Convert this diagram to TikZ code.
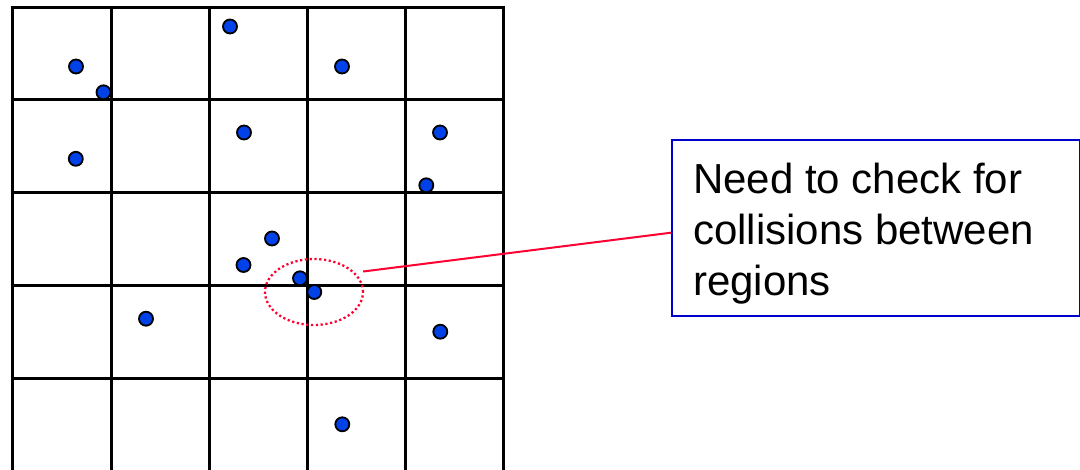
\documentclass[tikz,border=0pt]{standalone}
\usepackage{fontspec}
\setmainfont{Liberation Sans}
\usetikzlibrary{shapes.geometric}
\definecolor{dotblue}{RGB}{0,66,232}
\definecolor{boxblue}{RGB}{0,0,204}
\definecolor{lred}{RGB}{255,0,51}
\tikzset{
  gridline/.style={line width=3pt, black},
  ball/.style={circle, draw=black, fill=dotblue, line width=1.8pt, minimum size=14pt, inner sep=0pt},
  zone/.style={ellipse, draw=lred, line width=2.3pt, dash pattern=on 2.2pt off 2.6pt, minimum width=98pt, minimum height=66pt, inner sep=0pt},
  callout/.style={draw=boxblue, line width=2pt, minimum width=408pt, minimum height=176pt, anchor=north west, inner sep=0pt},
  calltext/.style={anchor=north west, align=left, inner sep=0pt, font=\fontsize{42}{51}\selectfont},
  link/.style={draw=lred, line width=2pt}
}
\begin{document}
\begin{tikzpicture}[x=1pt,y=-1pt]
\useasboundingbox (0,0) rectangle (1080,469);
\fill[white] (0,0) rectangle (1080,469);
% grid
\foreach \x in {12,111,209,307,405,503} \draw[gridline] (\x,5.5) -- (\x,470);
\foreach \y in {7,99,192,285,378} \draw[gridline] (10.5,\y) -- (504.5,\y);
% dots
\node[ball] (d1) at (76,66.5) {};
\node[ball] (d2) at (103.5,92.3) {};
\node[ball] (d3) at (230,26.5) {};
\node[ball] (d4) at (342,66.5) {};
\node[ball] (d5) at (75.8,158.8) {};
\node[ball] (d6) at (244,132.5) {};
\node[ball] (d7) at (440,132.5) {};
\node[ball] (d8) at (426.3,185.3) {};
\node[ball] (d9) at (272,238.5) {};
\node[ball] (d10) at (243.5,265) {};
\node[ball] (d11) at (300,278.3) {};
\node[ball] (d12) at (314.3,292) {};
\node[ball] (d13) at (146,318.7) {};
\node[ball] (d14) at (440.3,331.7) {};
\node[ball] (d15) at (342.3,424.3) {};
% zone and callout
\node[zone] (zone) at (314,292) {};
\coordinate (zs) at (363,271.5);
\node[callout] (box) at (671,139.3) {};
\node[calltext] (txt) at (693,162.5) {Need to check for\\collisions between\\regions};
\draw[link] (zs) -- (box.west |- 0,232.7);
\end{tikzpicture}
\end{document}
